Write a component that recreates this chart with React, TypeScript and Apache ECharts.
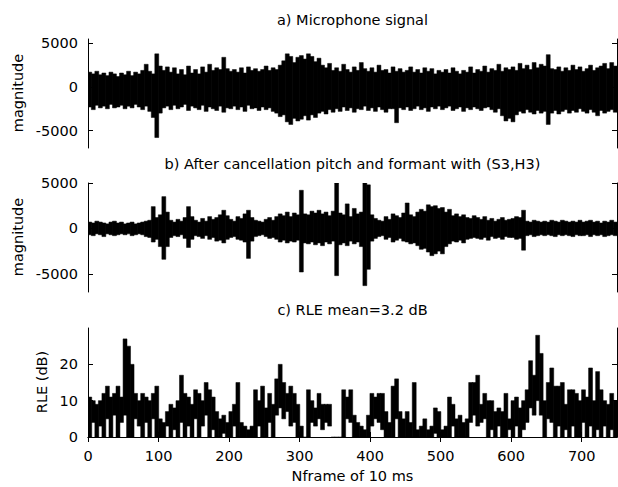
import React, { useEffect, useRef } from "react";
import * as echarts from "echarts";

// Frame axis
const FRAME_MAX = 750;
const BIN = 5; // frames per envelope bin
const xTicks = [0, 100, 200, 300, 400, 500, 600, 700];
const magTicks = [-5000, 0, 5000];
const rleTicks = [0, 10, 20];

const titleA = "a) Microphone signal";
const titleB = "b) After cancellation pitch and formant with (S3,H3)";
const titleC = "c) RLE mean=3.2 dB";
const yNameMag = "magnitude";
const yNameRle = "RLE (dB)";
const xName = "Nframe of 10 ms";

// a) Microphone signal: upper / lower envelope per 5-frame bin
const micHi = [
  1700, 1500, 1800, 1400, 1600, 1300, 1700, 1500, 1200, 1600,
  1400, 1800, 1300, 1700, 1500, 1900, 2600, 1800, 1500, 3800,
  2400, 1900, 2300, 1700, 2200, 1500, 2000, 1400, 2400, 1600,
  2000, 1500, 2300, 1700, 2600, 1900, 2200, 2000, 3400, 2100,
  1800, 2000, 1700, 2200, 1600, 2300, 1900, 2100, 1800, 2000,
  2400, 1900, 2200, 2000, 2500, 3000, 3800, 3500, 2800, 3400,
  3600, 3200, 3800, 3500, 2900, 3300, 2500, 2200, 2700, 1900,
  2200, 1800, 2600, 2000, 1700, 2300, 1900, 2800, 2100, 1800,
  2200, 1700, 2500, 1900, 2000, 1600, 2300, 1800, 2100, 1700,
  1900, 2300, 1700, 2000, 1600, 2200, 1800, 2100, 1500, 1900,
  1700, 2000, 1600, 2200, 1800, 1500, 1900, 1700, 2300, 1600,
  2000, 1800, 2400, 1700, 2100, 1900, 2600, 1800, 2200, 2000,
  2300, 1900, 2700, 2100, 2500, 2000, 2800, 2200, 2600, 2400,
  3700, 2100, 2000, 2300, 1800, 2200, 1900, 2500, 2000, 2300,
  1800, 2100, 2500, 1900, 2200, 2400, 2700, 2100, 2800, 2400,
];
const micLo = [
  -2300, -2600, -2100, -2400, -2200, -2500, -2000, -2400, -2300, -2100,
  -2500, -2200, -2400, -2000, -2300, -2600, -2200, -2800, -3500, -5800,
  -3000, -2400, -2200, -2600, -2100, -2500, -2300, -2000, -2700, -2200,
  -2400, -2600, -2100, -2800, -2300, -2500, -2700, -2200, -2900, -2400,
  -2500, -2200, -2600, -2300, -2800, -2100, -2500, -2400, -2700, -2300,
  -2600, -2400, -2800, -3000, -3400, -3200, -4000, -4300, -3600, -3900,
  -3700, -3300, -3800, -3200, -3500, -3000, -2800, -3100, -2600, -2900,
  -2500, -2800, -2300, -2700, -2400, -2900, -2500, -2600, -2200, -2700,
  -2400, -2800, -2300, -2600, -2900, -2500, -2500, -4100, -2400, -2600,
  -2300, -2700, -2500, -2200, -2600, -2400, -2800, -2300, -2500, -2200,
  -2600, -2400, -2200, -2700, -2500, -2300, -2800, -2400, -2600, -2300,
  -2500, -2700, -2400, -2300, -2600, -2900, -2500, -3300, -3900, -3600,
  -4000, -3200, -2800, -3000, -2600, -2900, -3100, -2700, -3000, -2800,
  -4300, -3000, -2700, -3100, -2800, -2600, -3000, -2700, -2900, -2500,
  -2800, -3000, -2600, -2900, -3300, -2700, -3000, -2800, -2600, -2900,
];

// b) After cancellation: upper / lower envelope per 5-frame bin
const resHi = [
  700, 600, 800, 700, 600, 500, 700, 800, 600, 700,
  500, 600, 700, 500, 600, 700, 800, 900, 2400, 1200,
  1500, 3500, 1800, 900, 700, 1000, 800, 1200, 2400, 1300,
  900, 700, 1100, 800, 1300, 1000, 1200, 1500, 2000, 1400,
  1000, 800, 1300, 1100, 1600, 2000, 1200, 900, 800, 700,
  1000, 1200, 900, 1300, 1600, 1400, 1800, 1300, 1700, 1500,
  4200, 1600, 1500, 1900, 1700, 2000, 1600, 1800, 1400, 1900,
  5000, 1700, 1500, 2700, 1300, 2200, 1600, 1800, 5000, 4800,
  1500, 1100, 900, 800, 1300, 1000, 1600, 1400, 1200, 1700,
  2800, 1500, 1300, 1800, 2100, 1900, 2600, 2400, 2500, 2200,
  2300, 1800, 2100, 1400, 1600, 1300, 1500, 1200, 1100, 1400,
  1200, 1000, 1300, 900, 1100, 800, 1000, 1200, 900, 1000,
  1100, 1300, 1200, 2000, 800, 700, 900, 800, 700, 800,
  700, 900, 800, 700, 900, 800, 700, 800, 700, 900,
  700, 800, 900, 700, 800, 600, 800, 700, 900, 700,
];
const resLo = [
  -700, -800, -600, -700, -900, -600, -700, -800, -700, -600,
  -700, -600, -800, -700, -600, -700, -900, -1000, -1500, -1200,
  -2000, -3400, -2000, -1000, -800, -900, -700, -1100, -2100, -1200,
  -800, -900, -1100, -800, -1200, -1000, -1400, -1300, -1600, -1200,
  -1000, -900, -1200, -1300, -1500, -3300, -1400, -900, -800, -700,
  -900, -1100, -1000, -1200, -1500, -1300, -1600, -1400, -1500, -1300,
  -4800, -1600, -1700, -1500, -1800, -1600, -1900, -1500, -1700, -1400,
  -5200, -1800, -1600, -1900, -1400, -1700, -1500, -2000, -6300, -4500,
  -1400, -1100, -900, -800, -1200, -1000, -1500, -1300, -1100, -1400,
  -1500, -1700, -1600, -1900, -2300, -2200, -2600, -3000, -2800, -2500,
  -2800, -2000, -1700, -1400, -1500, -1300, -1600, -1200, -1100, -1000,
  -1100, -1200, -1000, -1300, -900, -1100, -1000, -1200, -900, -1000,
  -1000, -1200, -1100, -2400, -800, -700, -900, -800, -700, -800,
  -700, -800, -900, -700, -800, -700, -800, -900, -700, -800,
  -800, -700, -900, -700, -800, -700, -900, -800, -700, -800,
];

// c) RLE (dB): max / min per 5-frame bin
const rleHi = [
  11, 10, 9, 10, 12, 14, 11, 12, 14, 11,
  27, 25, 20, 12, 10, 12, 11, 10, 12, 14,
  5, 4, 7, 9, 8, 10, 17, 12, 11, 9,
  13, 12, 10, 15, 13, 11, 7, 5, 6, 4,
  7, 9, 15, 4, 3, 2, 3, 13, 10, 14,
  8, 12, 9, 16, 20, 15, 12, 14, 12, 9,
  3, 0, 13, 10, 8, 12, 9, 9, 9, 0,
  0, 0, 13, 11, 13, 6, 4, 3, 2, 6,
  12, 11, 12, 12, 7, 4, 14, 16, 7, 5,
  7, 4, 15, 2, 3, 5, 2, 3, 8, 7,
  2, 3, 11, 9, 5, 6, 4, 5, 15, 15,
  17, 9, 12, 10, 10, 7, 8, 7, 12, 5,
  10, 11, 8, 10, 13, 21, 17, 28, 23, 10,
  15, 19, 14, 14, 15, 9, 13, 13, 12, 10,
  13, 11, 19, 10, 18, 13, 10, 9, 12, 10,
];
const rleLo = [
  0, 4, 0, 3, 0, 5, 0, 6, 0, 4,
  6, 0, 0, 5, 3, 0, 4, 0, 5, 0,
  0, 0, 3, 0, 2, 0, 4, 0, 3, 0,
  5, 0, 3, 6, 0, 2, 0, 0, 1, 0,
  0, 3, 0, 0, 0, 0, 0, 0, 3, 0,
  0, 4, 0, 6, 8, 5, 7, 3, 4, 0,
  0, 0, 0, 4, 3, 5, 2, 4, 3, 0,
  0, 0, 0, 5, 4, 0, 0, 0, 0, 0,
  3, 5, 4, 2, 0, 0, 0, 5, 0, 0,
  0, 0, 0, 0, 0, 0, 0, 0, 1, 0,
  0, 0, 0, 3, 0, 0, 0, 0, 4, 6,
  3, 4, 5, 0, 2, 0, 3, 0, 0, 2,
  0, 3, 0, 2, 4, 8, 6, 10, 6, 0,
  5, 4, 0, 3, 0, 2, 0, 3, 0, 0,
  4, 0, 3, 0, 2, 0, 3, 0, 2, 0,
];

const FONT = "DejaVu Sans";
const FS = 14.5;

// [frameStart, hi, lo] per bin
function bins(hi: number[], lo: number[]) {
  return hi.map((h, i) => [i * BIN, h, lo[i]]);
}

export default function App() {
  const ref = useRef<HTMLDivElement>(null);
  useEffect(() => {
    if (!ref.current) return;
    const chart = echarts.init(ref.current, undefined, { renderer: "svg" });
    const L = 88;
    const W = 529;
    const grids = [
      { left: L, top: 39, width: W, height: 109 },
      { left: L, top: 183, width: W, height: 109 },
      { left: L, top: 328, width: W, height: 109 },
    ];
    const black = "#000";
    const lbl = { color: black, fontFamily: FONT, fontSize: FS, formatter: (v: number) => String(v) };
    const axLine = { show: true, lineStyle: { color: black, width: 1 } };

    const xAxes: any[] = [
      { gridIndex: 0, type: "value", min: 0, max: FRAME_MAX, show: false },
      { gridIndex: 1, type: "value", min: 0, max: FRAME_MAX, show: false },
      {
        gridIndex: 2, type: "value", min: 0, max: FRAME_MAX, position: "bottom",
        axisLine: axLine,
        axisTick: { show: true, inside: true, length: 5, customValues: xTicks, lineStyle: { color: black } },
        axisLabel: { ...lbl, margin: 11, customValues: xTicks },
        splitLine: { show: false },
      },
      {
        gridIndex: 2, type: "value", min: 0, max: FRAME_MAX, position: "top",
        axisLine: axLine,
        axisTick: { show: true, inside: true, length: 5, customValues: xTicks, lineStyle: { color: black } },
        axisLabel: { show: false },
        splitLine: { show: false },
      },
    ];

    const magAxis = (g: number, max: number, side: "left" | "right") => ({
      gridIndex: g, type: "value", min: -7000, max, position: side,
      axisLine: { ...axLine, onZero: false },
      axisTick: { show: true, inside: true, length: 5, customValues: magTicks, lineStyle: { color: black } },
      axisLabel: side === "left" ? { ...lbl, margin: 10, customValues: magTicks } : { show: false },
      splitLine: { show: false },
    });
    const rleAxis = (side: "left" | "right") => ({
      gridIndex: 2, type: "value", min: 0, max: 30, position: side,
      axisLine: { ...axLine, onZero: false },
      axisTick: { show: true, inside: true, length: 5, customValues: rleTicks, lineStyle: { color: black } },
      axisLabel: side === "left" ? { ...lbl, margin: 10, customValues: rleTicks } : { show: false },
      splitLine: { show: false },
    });
    const yAxes: any[] = [
      magAxis(0, 5500, "left"),
      magAxis(0, 5500, "right"),
      magAxis(1, 5000, "left"),
      magAxis(1, 5000, "right"),
      rleAxis("left"),
      rleAxis("right"),
    ];

    const envSeries = (xi: number, yi: number, data: number[][]) => ({
      type: "custom", xAxisIndex: xi, yAxisIndex: yi, data, silent: true, clip: true,
      encode: { x: 0, y: [1, 2] },
      renderItem: (_p: any, api: any) => {
        const x0 = api.value(0);
        const top = api.coord([x0, api.value(1)]);
        const bot = api.coord([x0 + BIN, api.value(2)]);
        const w = bot[0] - top[0];
        return {
          type: "rect",
          shape: { x: top[0] - 0.2, y: top[1], width: w + 0.4, height: Math.max(1, bot[1] - top[1]) },
          style: { fill: black, stroke: black, lineWidth: 0.5 },
        };
      },
    });

    const cx = L + W / 2;
    const txt = (text: string, x: number, y: number, rot = 0) => ({
      type: "text", x, y, rotation: rot, silent: true,
      style: { text, fill: black, fontFamily: FONT, fontSize: FS, textAlign: "center", textVerticalAlign: "middle" },
    });

    chart.setOption({
      animation: false,
      backgroundColor: "#fff",
      grid: grids,
      xAxis: xAxes,
      yAxis: yAxes,
      series: [
        envSeries(0, 0, bins(micHi, micLo)),
        envSeries(1, 2, bins(resHi, resLo)),
        envSeries(2, 4, bins(rleHi, rleLo)),
      ],
      graphic: [
        txt(titleA, cx, 20),
        txt(titleB, cx, 164),
        txt(titleC, cx, 310),
        txt(yNameMag, 18, 93, Math.PI / 2),
        txt(yNameMag, 18, 237, Math.PI / 2),
        txt(yNameRle, 42, 382, Math.PI / 2),
        txt(xName, cx, 476),
      ],
    });
    return () => chart.dispose();
  }, []);
  return <div ref={ref} style={{ position: "fixed", left: 0, top: 0, width: 618, height: 487 }} />;
}
